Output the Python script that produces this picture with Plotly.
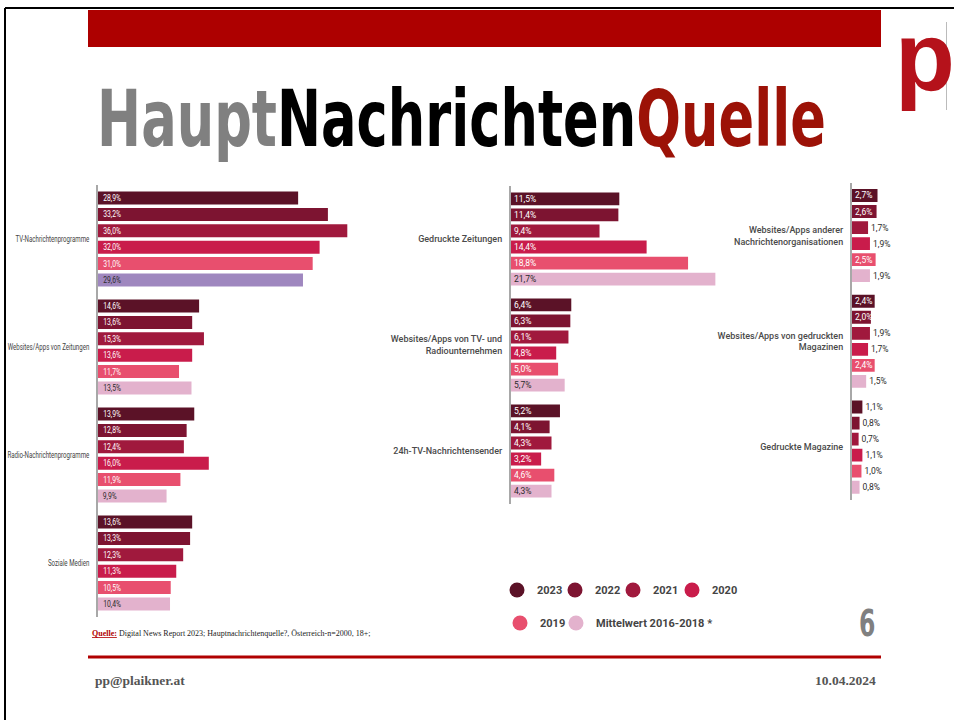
import plotly.graph_objects as go

# ---------------- data ----------------
years = ["2023", "2022", "2021", "2020", "2019", "Mittelwert 2016-2018 *"]

left_categories = ["TV-Nachrichtenprogramme", "Websites/Apps von Zeitungen",
                   "Radio-Nachrichtenprogramme", "Soziale Medien"]
left_2023 = [28.9, 14.6, 13.9, 13.6]
left_2022 = [33.2, 13.6, 12.8, 13.3]
left_2021 = [36.0, 15.3, 12.4, 12.3]
left_2020 = [32.0, 13.6, 16.0, 11.3]
left_2019 = [31.0, 11.7, 11.9, 10.5]
left_mw = [29.6, 13.5, 9.9, 10.4]

mid_categories = ["Gedruckte Zeitungen", "Websites/Apps von TV- und<br>Radiounternehmen",
                  "24h-TV-Nachrichtensender"]
mid_2023 = [11.5, 6.4, 5.2]
mid_2022 = [11.4, 6.3, 4.1]
mid_2021 = [9.4, 6.1, 4.3]
mid_2020 = [14.4, 4.8, 3.2]
mid_2019 = [18.8, 5.0, 4.6]
mid_mw = [21.7, 5.7, 4.3]

right_categories = ["Websites/Apps anderer<br>Nachrichtenorganisationen",
                    "Websites/Apps von gedruckten<br>Magazinen", "Gedruckte Magazine"]
right_2023 = [2.7, 2.4, 1.1]
right_2022 = [2.6, 2.0, 0.8]
right_2021 = [1.7, 1.9, 0.7]
right_2020 = [1.9, 1.7, 1.1]
right_2019 = [2.5, 2.4, 1.0]
right_mw = [1.9, 1.5, 0.8]

# ---------------- styles ----------------
colors = ["#5b1227", "#7d1431", "#a0193d", "#c91c4b", "#e84f6e", "#e3b2cd"]
tv_mw_color = "#9f87bf"
W, H = 954, 720

def fmt(v):
    return f"{v:.1f}".replace(".", ",") + "%"

fig = go.Figure()

panels = [
    ("x", "y", left_categories,
     [left_2023, left_2022, left_2021, left_2020, left_2019, left_mw], 0.0),
    ("x2", "y2", mid_categories,
     [mid_2023, mid_2022, mid_2021, mid_2020, mid_2019, mid_mw], 0.0),
    ("x3", "y3", right_categories,
     [right_2023, right_2022, right_2021, right_2020, right_2019, right_mw], 2.0),
]

for xa, ya, cats, series, inside_min in panels:
    for i, vals in enumerate(series):
        is_mw = i == 5
        if is_mw and xa == "x":
            mcol = [tv_mw_color] + [colors[5]] * (len(vals) - 1)
        else:
            mcol = colors[i]
        fig.add_trace(go.Bar(
            x=vals, y=cats, orientation="h", xaxis=xa, yaxis=ya,
            name=years[i], showlegend=False,
            marker=dict(color=mcol, line=dict(width=0)),
            text=[fmt(v) for v in vals],
            textposition=["inside" if v >= inside_min else "outside" for v in vals],
            insidetextanchor="start",
            insidetextfont=dict(color="#2b2b2b" if is_mw else "white",
                                family="Roboto", size=8.5),
            outsidetextfont=dict(color="#2b2b2b", family="Roboto", size=8.5),
            cliponaxis=False,
            hoverinfo="skip",
        ))

# legend-only entries (circles), one positioned legend per entry
legend_pos = [(497, 590), (555, 590), (613, 590), (672, 590), (500, 623), (556, 623)]
for i, name in enumerate(years):
    fig.add_trace(go.Scatter(
        x=[None], y=[None], mode="markers", name=name,
        marker=dict(symbol="circle", size=15, color=colors[i]),
        legend="legend" if i == 0 else f"legend{i + 1}",
        xaxis="x", yaxis="y",
    ))

def px_x(a, b):
    return [a / W, b / W]

def px_y(top, bottom):
    return [1 - bottom / H, 1 - top / H]

axis_common = dict(showgrid=False, zeroline=False, showticklabels=False,
                   fixedrange=True, automargin=False)
yaxis_common = dict(showgrid=False, zeroline=False, autorange="reversed",
                    showline=True, linecolor="#a8a8a8", linewidth=2,
                    ticks="", ticklabelstandoff=5, fixedrange=True, automargin=False)

legend_layout = {}
for i, (lx, ly) in enumerate(legend_pos):
    key = "legend" if i == 0 else f"legend{i + 1}"
    legend_layout[key] = dict(
        orientation="h", x=lx / W, y=1 - ly / H, xanchor="left", yanchor="middle",
        font=dict(family="Roboto", size=11, color="#444444", weight="bold"),
        itemsizing="trace", bgcolor="rgba(0,0,0,0)", borderwidth=0,
        itemclick=False, itemdoubleclick=False)

fig.update_layout(
    width=W, height=H, autosize=False,
    margin=dict(l=0, r=0, t=0, b=0, autoexpand=False),
    paper_bgcolor="white", plot_bgcolor="rgba(0,0,0,0)",
    barmode="group", bargap=0.09, bargroupgap=0.2,
    uniformtext=dict(minsize=8.5, mode="show"),
    xaxis=dict(domain=px_x(98, 375), range=[0, 40], anchor="y", **axis_common),
    yaxis=dict(domain=px_y(185, 617), anchor="x",
               tickfont=dict(family="Roboto", size=8.5, color="#444444"),
               **yaxis_common),
    xaxis2=dict(domain=px_x(511, 718.2), range=[0, 22], anchor="y2", **axis_common),
    yaxis2=dict(domain=px_y(186, 504), anchor="x2",
                tickfont=dict(family="Roboto", size=9, color="#4a4a4a", weight=500),
                **yaxis_common),
    xaxis3=dict(domain=px_x(852, 946.5), range=[0, 10], anchor="y3", **axis_common),
    yaxis3=dict(domain=px_y(182.7, 500), anchor="x3",
                tickfont=dict(family="Roboto", size=9, color="#4a4a4a", weight=500),
                **yaxis_common),
    **legend_layout,
)

shapes = [
    dict(type="rect", xref="paper", yref="paper", x0=88 / W, x1=881 / W,
         y0=1 - 47 / H, y1=1 - 10 / H, fillcolor="#ad0000", line=dict(width=0)),
    dict(type="line", xref="paper", yref="paper", x0=5 / W, x1=1, y0=1 - 8 / H, y1=1 - 8 / H,
         line=dict(color="black", width=2)),
    dict(type="line", xref="paper", yref="paper", x0=5 / W, x1=5 / W, y0=0, y1=1 - 8 / H,
         line=dict(color="black", width=2)),
    dict(type="line", xref="paper", yref="paper", x0=88 / W, x1=881 / W,
         y0=1 - 657 / H, y1=1 - 657 / H, line=dict(color="#b00000", width=3)),
    dict(type="line", xref="paper", yref="paper", x0=946.5 / W, x1=946.5 / W,
         y0=1 - 110 / H, y1=1 - 22 / H, line=dict(color="#bbbbbb", width=1)),
]
fig.update_layout(shapes=shapes)

annotations = [
    dict(text=("<span style='color:#808080'>Haupt</span>"
               "<span style='color:#000000'>Nachrichten</span>"
               "<span style='color:#9c1207'>Quelle</span>"),
         xref="paper", yref="paper", x=95 / W, y=1 - 119.5 / H, xanchor="left",
         yanchor="middle", showarrow=False,
         font=dict(family="DejaVu Sans", size=78, weight="bold")),
    dict(text="p", xref="paper", yref="paper", x=893 / W, y=1 - 57 / H,
         xanchor="left", yanchor="middle", showarrow=False,
         font=dict(family="Liberation Sans", size=98, color="#b5121b",
                   weight="bold")),
    dict(text="6", xref="paper", yref="paper", x=877 / W, y=1 - 623 / H,
         xanchor="right", yanchor="middle", showarrow=False,
         font=dict(family="DejaVu Sans", size=38, color="#808080", weight="bold")),
    dict(text=("<span style='color:#b00000;text-decoration:underline'><b>Quelle:</b></span>"
               " Digital News Report 2023; Hauptnachrichtenquelle?, Österreich-n=2000, 18+;"),
         xref="paper", yref="paper", x=90 / W, y=1 - 633 / H, xanchor="left",
         yanchor="middle", showarrow=False,
         font=dict(family="Liberation Serif", size=8, color="#222222")),
    dict(text="<b>pp@plaikner.at</b>", xref="paper", yref="paper", x=93 / W, y=1 - 680 / H,
         xanchor="left", yanchor="middle", showarrow=False,
         font=dict(family="Liberation Serif", size=13.5, color="#555555")),
    dict(text="<b>10.04.2024</b>", xref="paper", yref="paper", x=878 / W, y=1 - 680 / H,
         xanchor="right", yanchor="middle", showarrow=False,
         font=dict(family="Liberation Serif", size=13.5, color="#555555")),
]
fig.update_layout(annotations=annotations)

# page margin reset + condensed look for the headline, page number and left panel texts
post = """
document.body.style.margin='0';
document.body.style.overflow='hidden';
function squeeze(idx, sx, origin){
  var t = document.querySelector('.annotation[data-index="' + idx + '"] .annotation-text');
  if(!t) return;
  t.style.transformBox = 'fill-box';
  t.style.transformOrigin = origin;
  t.style.transform = 'scaleX(' + sx + ')';
}
function narrow(sel, f){
  document.querySelectorAll(sel).forEach(function(t){
    var L = t.getComputedTextLength();
    if(L > 0){
      t.setAttribute('textLength', (L * f).toFixed(2));
      t.setAttribute('lengthAdjust', 'spacingAndGlyphs');
    }
  });
}
squeeze(0, 0.675, 'left center');
squeeze(2, 0.62, 'right center');
narrow('.subplot.xy .yaxislayer-above .ytick text', 0.72);
narrow('.subplot.xy .bartext', 0.8);
"""

fig.write_html("out.html", config={"displayModeBar": False}, post_script=post)
